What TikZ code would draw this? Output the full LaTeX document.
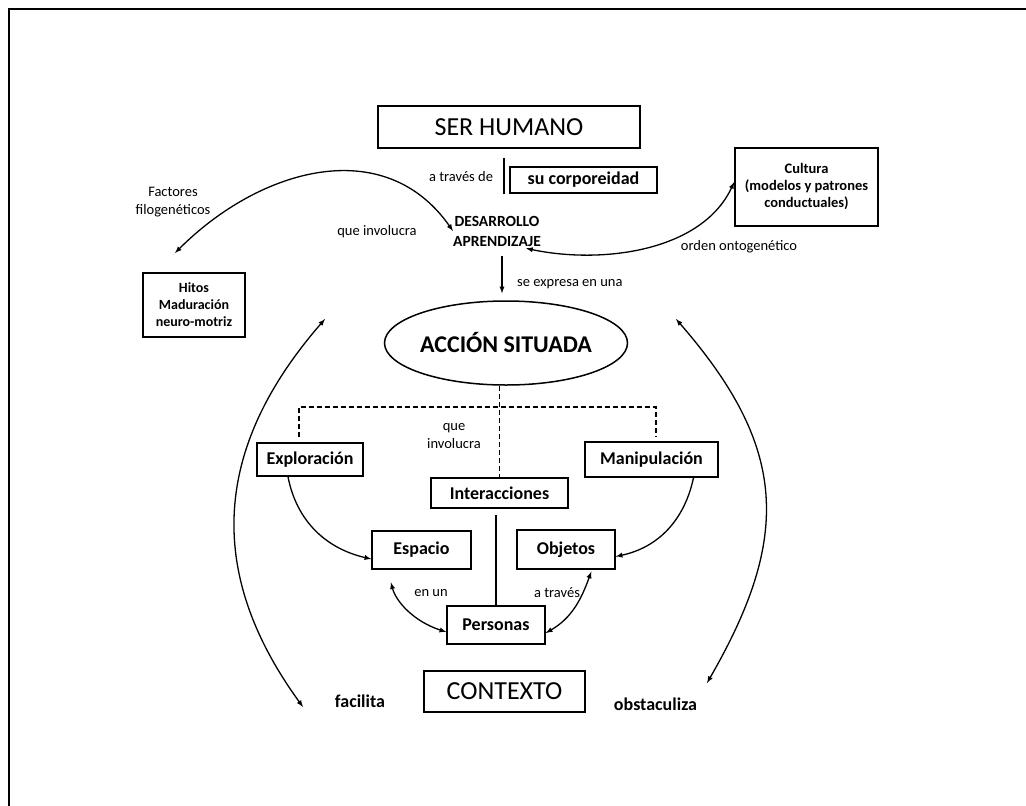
\documentclass[tikz,border=0pt]{standalone}
\usepackage{fontspec}
\setmainfont{Carlito}
\usetikzlibrary{arrows,shapes}

\begin{document}
\begin{tikzpicture}[x=1pt,y=1pt,>=latex]
\tikzstyle{every node}=[inner sep=0pt,text=black];
\tikzstyle{caja}=[draw,line width=1.5pt,font=\bfseries\fontsize{18}{21}\selectfont];
\tikzstyle{nota}=[font=\fontsize{14.5}{18}\selectfont,align=center];
\tikzstyle{flecha}=[line width=1.3pt];
\useasboundingbox (0,0) rectangle (1026,-806);
\draw[line width=2.5pt] (9,-806) |- (1026,-9);

\node[caja,font=\fontsize{26}{30}\selectfont,minimum width=262pt,minimum height=42pt] (ser) at (509,-127) {SER HUMANO};
\node[nota] (atraves) at (461,-177) {a través de};
\node[caja,minimum width=147pt,minimum height=26pt] (corp) at (583.5,-180) {su corporeidad};
\coordinate (v1) at (504,-158);
\coordinate (v2) at (504,-194);
\draw[flecha] (v1) -- (v2);
\node[font=\bfseries\fontsize{15.5}{20}\selectfont,align=center] (desa) at (497,-231) {DESARROLLO\\APRENDIZAJE};
\node[nota] (facto) at (173,-202) {Factores\\filogenéticos};
\node[nota] (qinv) at (377,-232) {que involucra};
\node[caja,font=\bfseries\fontsize{14.5}{17}\selectfont,align=center,minimum width=143pt,minimum height=78pt] (cult) at (806.5,-187) {Cultura\\(modelos y patrones\\conductuales)};
\node[nota] (orden) at (739,-247) {orden ontogenético};
\node[caja,font=\bfseries\fontsize{14}{17}\selectfont,align=center,minimum width=102pt,minimum height=64pt] (hitos) at (194,-305) {Hitos\\Maduración\\neuro-motriz};
\node[nota,anchor=west] (sexp) at (517,-284) {se expresa en una};
\node[draw,ellipse,line width=1.5pt,minimum width=236pt,minimum height=84pt,font=\bfseries\fontsize{24}{28}\selectfont] (acc) at (506,-343) {ACCIÓN SITUADA};

\coordinate (fac) at (175,-253);
\draw[flecha,<->] (fac) to[out=45,in=125,looseness=1.1] (desa.west);
\draw[flecha,<->] ([xshift=29pt,yshift=-2pt]desa.south) to[out=-12,in=245,looseness=0.9] ([yshift=5pt]cult.west);
\draw[flecha,->,shorten <=10pt,shorten >=7pt] ([xshift=5pt]desa.south) -- ([xshift=5pt]desa.south |- acc.north);

\node[caja,minimum width=106pt,minimum height=33pt] (expl) at (310,-459.5) {Exploración};
\node[caja,minimum width=133pt,minimum height=35pt] (manip) at (651.5,-459.5) {Manipulación};
\node[caja,minimum width=137pt,minimum height=30pt] (inter) at (499.5,-493) {Interacciones};
\node[caja,minimum width=99pt,minimum height=38pt] (esp) at (421.5,-550) {Espacio};
\node[caja,minimum width=98pt,minimum height=39pt] (obj) at (566,-549.5) {Objetos};
\node[caja,minimum width=98pt,minimum height=38pt] (pers) at (496,-625) {Personas};
\node[nota] (qinv2) at (454,-436) {que\\involucra};
\node[nota] (enun) at (431,-593) {en un};
\node[nota] (atrav2) at (557,-593) {a través};

\draw[flecha,dash pattern=on 5pt off 3pt] (inter.north |- acc.south) -- (inter.north);
\coordinate (dl) at (299,-437);
\coordinate (dr) at (656,-437);
\draw[flecha,dash pattern=on 5pt off 3pt] (dl) -- ++(0,30) -| (dr);
\draw[flecha,shorten >=6pt] (pers.north) -- (pers.north |- inter.south);

\draw[flecha,->] ([xshift=-22pt]expl.south) to[out=-79,in=167] ([yshift=-9pt]esp.west);
\draw[flecha,->] ([xshift=42pt]manip.south) to[out=-102,in=12] ([yshift=-7pt]obj.east);
\draw[flecha,<->,shorten <=13pt] ([xshift=-34pt]esp.south) to[out=-75,in=162] ([yshift=-7pt]pers.west);
\draw[flecha,<->,shorten <=2pt] ([xshift=26pt]obj.south) to[out=-110,in=30] ([yshift=-8pt]pers.east);

\coordinate (la) at (325,-319);
\coordinate (lb) at (303,-707);
\draw[flecha,<->] (la) to[out=229,in=126,looseness=1.11] (lb);
\coordinate (ra) at (676,-319);
\coordinate (rb) at (707,-683);
\draw[flecha,<->] (ra) to[out=-49,in=60,looseness=1.19] (rb);

\node[caja,font=\fontsize{26}{30}\selectfont,minimum width=161pt,minimum height=41pt] (ctx) at (504.5,-691.5) {CONTEXTO};
\node[font=\bfseries\fontsize{18}{21}\selectfont] (facil) at (360,-701) {facilita};
\node[font=\bfseries\fontsize{18}{21}\selectfont] (obst) at (655.5,-704) {obstaculiza};
\end{tikzpicture}
\end{document}
